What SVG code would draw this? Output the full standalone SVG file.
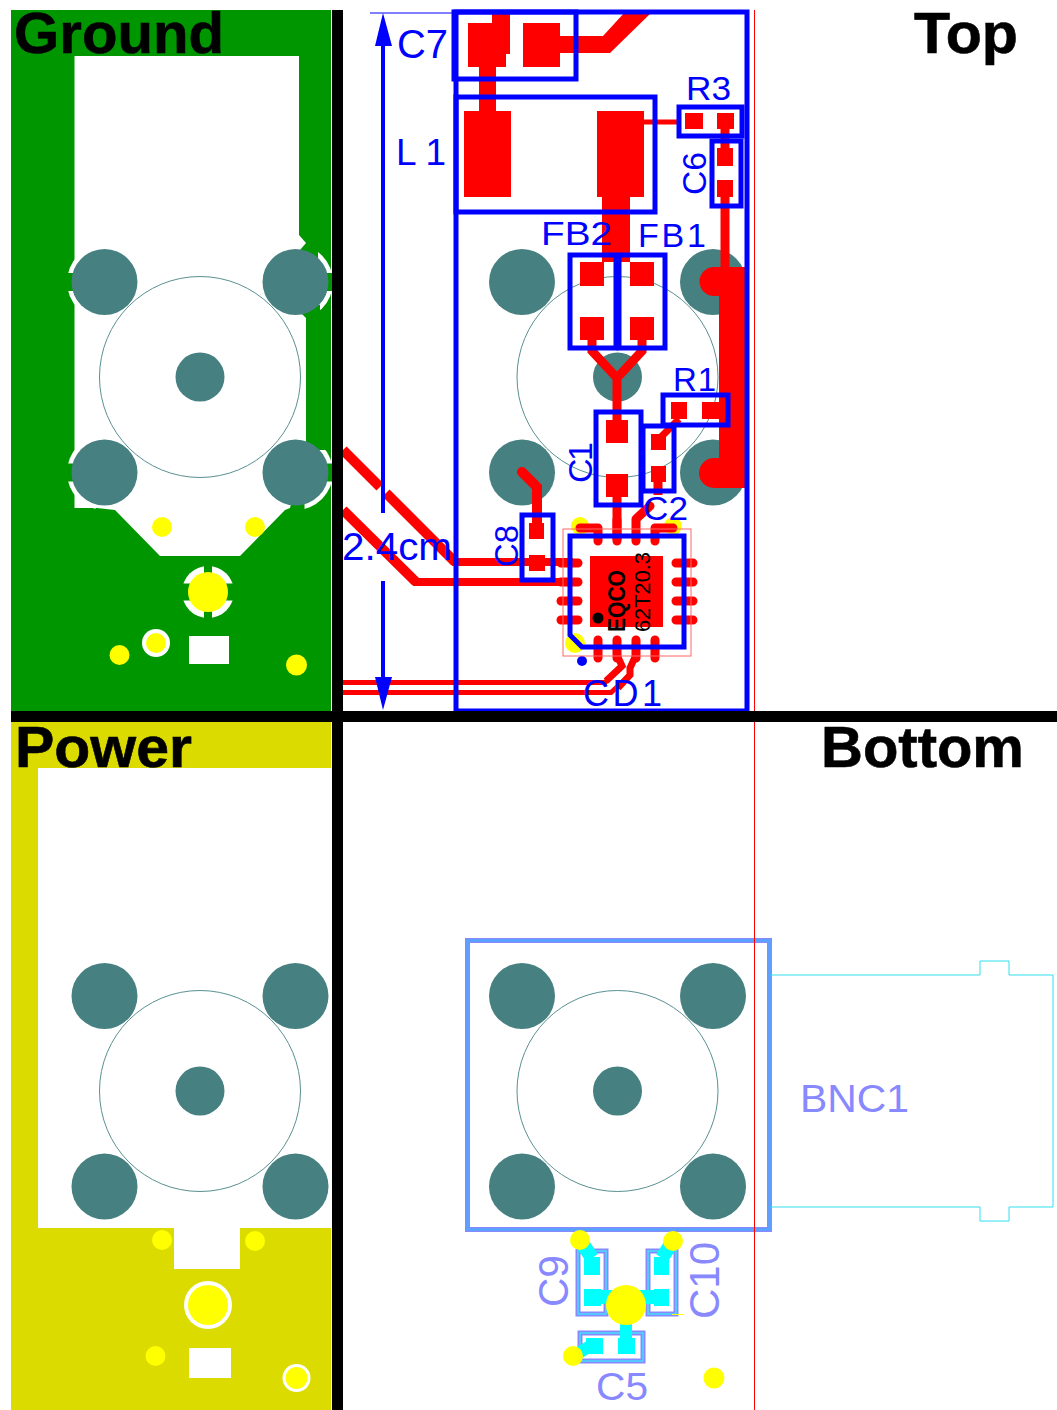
<svg xmlns="http://www.w3.org/2000/svg" width="1057" height="1410" viewBox="0 0 1057 1410">
<style>
.hole{fill:#468080}
.ring{fill:none;stroke:#5a9090;stroke-width:1}
.y{fill:#ffff00}
.w{fill:#fff}
.g{fill:#009600}
.r{fill:#ff0000}
.rt{fill:none;stroke:#ff0000;stroke-width:9;stroke-linejoin:miter}
.t10{stroke-width:10px}
.t8{stroke-width:8px}
.t7{stroke-width:7px}
.t5{stroke-width:5px}
.pin{fill:none;stroke:#ff0000;stroke-width:9;stroke-linecap:round;stroke-linejoin:round}
.b{fill:none;stroke:#0000ff;stroke-width:5}
.bl{font-family:"Liberation Sans",Arial,sans-serif;fill:#0000ff}
.pl{font-family:"Liberation Sans",Arial,sans-serif;fill:#8888ff}
.title{font-family:"Liberation Sans",Arial,sans-serif;font-weight:700;font-size:58px;fill:#000;stroke:#000;stroke-width:.6}
.c{fill:#00ffff}
.ct{fill:none;stroke:#00ffff}
.po{fill:none;stroke:#8888ff;stroke-width:5}
.pi{fill:none;stroke:#44ddff;stroke-width:1.5}
</style>
<defs>
<g id="holes">
<circle class="ring" cx="0" cy="0" r="100.5"/>
<circle class="hole" cx="0" cy="0" r="24.5"/>
<circle class="hole" cx="-95.5" cy="-95" r="33"/>
<circle class="hole" cx="95.5" cy="-95" r="33"/>
<circle class="hole" cx="-95.5" cy="95.5" r="33"/>
<circle class="hole" cx="95.5" cy="95.5" r="33"/>
</g>
<g id="thermal">
<circle class="w" r="37.500"/>
<rect class="g" x="-40" y="-9" width="80" height="18"/>
<rect class="g" x="-9" y="-40" width="18" height="80"/>
</g>
</defs>

<g id="ground">
<rect class="g" x="11" y="10" width="320" height="701"/>
<use href="#thermal" x="104.500" y="282"/>
<use href="#thermal" x="295.500" y="282"/>
<use href="#thermal" x="104.500" y="472.500"/>
<use href="#thermal" x="295.500" y="472.500"/>
<rect class="g" x="300" y="240" width="18" height="22"/>
<rect class="g" x="300" y="305" width="20" height="20"/>
<rect class="g" x="300" y="430" width="26" height="20"/>
<polygon class="w" points="74.500,56 299,56 299,235 306,243 300,250 300,312 306,318 306,445 290,508 285,510 240,556 160,556 115,510 97,508 74.500,508"/>
<use href="#holes" x="200" y="377"/>
<circle class="y" cx="162" cy="527" r="10"/>
<circle class="y" cx="255" cy="527" r="10"/>
<circle class="w" cx="208" cy="592" r="26"/>
<rect class="g" x="180" y="583.500" width="56" height="17"/>
<rect class="g" x="204" y="562" width="8" height="60"/>
<circle class="y" cx="208" cy="592" r="20"/>
<circle class="w" cx="156" cy="643" r="14"/>
<circle class="y" cx="156" cy="643" r="10"/>
<circle class="y" cx="119.500" cy="655" r="10"/>
<rect class="w" x="189" y="636" width="40" height="28"/>
<circle class="y" cx="296.500" cy="665" r="10.500"/>
<text class="title" x="14" y="53" textLength="210" lengthAdjust="spacingAndGlyphs">Ground</text>
</g>

<g id="power">
<rect x="11" y="722" width="320" height="688" fill="#dbdb00"/>
<rect class="w" x="38" y="768" width="293" height="460"/>
<rect class="w" x="174" y="1228" width="66" height="41"/>
<use href="#holes" x="200" y="1091"/>
<circle class="y" cx="162" cy="1240" r="10"/>
<circle class="y" cx="255" cy="1241" r="10"/>
<circle class="w" cx="208" cy="1305" r="24"/>
<circle class="y" cx="208" cy="1305" r="20"/>
<circle class="y" cx="155.500" cy="1356" r="10"/>
<rect class="w" x="189" y="1348" width="42" height="30"/>
<circle class="w" cx="296.500" cy="1378" r="14"/>
<circle class="y" cx="296.500" cy="1378" r="11"/>
<text class="title" x="15" y="767" textLength="177" lengthAdjust="spacingAndGlyphs">Power</text>
</g>

<g id="top-holes"><use href="#holes" x="617.500" y="377"/></g>

<g id="bottom-outlines">
<use href="#holes" x="617.500" y="1091"/>
<rect x="467.500" y="940.500" width="302" height="289" fill="none" stroke="#8888ff" stroke-width="5"/>
<rect x="467.500" y="940.500" width="302" height="289" fill="none" stroke="#55a5ff" stroke-width="2.500"/>
<path id="bnc1" d="M770,975H980V961H1009V975H1053V1207H1009V1221H980V1207H770" fill="none" stroke="#33ddee" stroke-width="1"/>
<rect class="po" x="578" y="1251" width="28" height="63"/>
<rect class="pi" x="578" y="1251" width="28" height="63"/>
<rect class="po" x="648" y="1251" width="28" height="63"/>
<rect class="pi" x="648" y="1251" width="28" height="63"/>
<rect class="po" x="580" y="1333" width="63" height="28"/>
<rect class="pi" x="580" y="1333" width="63" height="28"/>
</g>

<g id="connectors">
<g id="top-traces">
<rect class="r" x="479" y="67" width="17" height="44"/>
<rect class="r" x="492" y="14" width="18" height="40"/>
<path class="r" d="M560,36H603L625,12H652L610,53H560Z"/>
<rect class="r" x="644" y="119.500" width="36" height="5"/>
<rect class="r" x="602" y="197" width="28" height="65"/>
<path class="rt" d="M725,129V150M725,197V270"/>
<path class="r" d="M714,267H745V488H714A15,15 0 0 1 714,458H719V296H714A14.500,14.500 0 0 1 714,267Z"/>
<path class="rt" d="M592,340V351L617,378L642,351V340M617,375V420"/>
<path class="rt" d="M720,410H735"/>
<path class="rt t7" d="M679,419L658,440"/>
<path class="rt" d="M658,482V495M617,497V540"/>
<path class="rt t10" stroke-linecap="round" d="M522,472L537,487V525"/>
<path class="rt t10" d="M343,450L380,487M386,493L455,562"/>
<path class="rt t8" d="M452,562H573"/>
<path class="rt t10" d="M343,510L416,582"/>
<path class="rt t8" d="M413,582H573"/>
<path class="rt t5" d="M343,682.500H605L622,667M343,692.500H611L630,675V667"/>
<path class="rt t7" d="M617,655L622,666L606,681M636,655L630,668V675L618,688"/>
</g>
<g id="bottom-traces">
<path class="ct" stroke-width="14" d="M582,1243L592,1258M671,1244L662,1258"/>
<path class="ct" stroke-width="14" d="M595,1297H660"/>
<path class="ct" stroke-width="12" d="M626,1320V1340M575,1355L592,1345"/>
</g>
</g>

<g id="top">
<rect class="r" x="468" y="23" width="42" height="28"/>
<rect class="r" x="468" y="50" width="38" height="17"/>
<rect class="r" x="523" y="23" width="37" height="44"/>
<rect class="r" x="464" y="111" width="47" height="86"/>
<rect class="r" x="597" y="111" width="47" height="86"/>
<rect class="r" x="685" y="113" width="18" height="16"/>
<rect class="r" x="717" y="113" width="17" height="16"/>
<rect class="r" x="717" y="148" width="16" height="18"/>
<rect class="r" x="717" y="180" width="16" height="17"/>
<rect class="r" x="580" y="262" width="24" height="24"/>
<rect class="r" x="580" y="317" width="24" height="23"/>
<rect class="r" x="630" y="262" width="24" height="24"/>
<rect class="r" x="630" y="317" width="24" height="23"/>
<rect class="r" x="606" y="420" width="22" height="23"/>
<rect class="r" x="606" y="474" width="22" height="23"/>
<rect class="r" x="651" y="434" width="15" height="16"/>
<rect class="r" x="651" y="466" width="15" height="16"/>
<rect class="r" x="671" y="402" width="16" height="17"/>
<rect class="r" x="702" y="402" width="24" height="17"/>
<rect class="r" x="529" y="523" width="15" height="16"/>
<rect class="r" x="529" y="555" width="16" height="16"/>
<line x1="754.500" y1="10" x2="754.500" y2="1410" stroke="#ff0000" stroke-width="1"/>
</g>

<g id="chip">
<circle class="y" cx="580" cy="526" r="9"/>
<circle class="y" cx="673" cy="526" r="9"/>
<circle class="y" cx="575" cy="643" r="10"/>
<circle cx="582" cy="661" r="5" fill="#0000ff"/>
<path class="pin" d="M580,528H598V541M617,520V541M636,541V519L650,506M673,528H655V541"/>
<path class="pin" d="M598,640V658M617,640V658M636,640V658M655,640V658"/>
<path class="pin" d="M561,563H578M561,582H578M561,601H578M561,620H578M676,563H693M676,582H693M676,601H693M676,620H693"/>
<rect class="r" x="590" y="556" width="73" height="71"/>
<rect x="563" y="529" width="128" height="127" fill="none" stroke="#ff6666" stroke-width="1"/>
<circle cx="598" cy="618" r="5.500" fill="#000"/>
<text transform="translate(625,632) rotate(-90)" font-family="'Liberation Sans',Arial,sans-serif" font-weight="700" font-size="23" fill="#000" textLength="62" lengthAdjust="spacingAndGlyphs">EQCO</text>
<text transform="translate(650,632) rotate(-90)" font-family="'Liberation Sans',Arial,sans-serif" font-size="22" fill="#000" textLength="80" lengthAdjust="spacingAndGlyphs">62T20.3</text>
</g>

<g id="top-outlines">
<rect class="b" x="456" y="12" width="291" height="699"/>
<rect class="b" x="454" y="12" width="122" height="67"/>
<rect class="b" x="456" y="97" width="199" height="115"/>
<rect class="b" x="679" y="107" width="63" height="29"/>
<rect class="b" x="712" y="141" width="29" height="65"/>
<rect class="b" x="570" y="255" width="46" height="93"/>
<rect class="b" x="619" y="255" width="46" height="93"/>
<rect class="b" x="596" y="412" width="45" height="93"/>
<rect class="b" x="643" y="426" width="31" height="65"/>
<rect class="b" x="663" y="395" width="65" height="30"/>
<rect class="b" x="522" y="515" width="31" height="65"/>
<path class="b" d="M570,536H684V647H582L570,635Z"/>
<line x1="370" y1="13" x2="456" y2="13" stroke="#0000ff" stroke-width="1"/>
<path d="M383,46V513M383,581V680" fill="none" stroke="#0000ff" stroke-width="4"/>
<path d="M383,13L392,46H375Z M383,710L392,677H375Z" fill="#0000ff"/>
<text class="bl" x="397" y="58" font-size="41" textLength="51" lengthAdjust="spacingAndGlyphs">C7</text>
<text class="bl" x="396" y="165" font-size="37" textLength="50">L1</text>
<text class="bl" x="686" y="100" font-size="33" textLength="45" lengthAdjust="spacingAndGlyphs">R3</text>
<text class="bl" transform="translate(706,195) rotate(-90)" font-size="34" textLength="43" lengthAdjust="spacingAndGlyphs">C6</text>
<text class="bl" x="541" y="245" font-size="34" textLength="71" lengthAdjust="spacingAndGlyphs">FB2</text>
<text class="bl" x="638" y="247" font-size="34" textLength="68">FB1</text>
<text class="bl" transform="translate(592,483) rotate(-90)" font-size="34" textLength="41">C1</text>
<text class="bl" x="673" y="391" font-size="33" textLength="43">R1</text>
<text class="bl" x="643" y="520" font-size="33" textLength="45" lengthAdjust="spacingAndGlyphs">C2</text>
<text class="bl" transform="translate(518,567) rotate(-90)" font-size="34" textLength="42" lengthAdjust="spacingAndGlyphs">C8</text>
<text class="bl" x="342" y="560" font-size="38" textLength="110" lengthAdjust="spacingAndGlyphs">2.4cm</text>
<text class="bl" x="583" y="706" font-size="36" textLength="79">CD1</text>
<text class="title" x="914" y="53" textLength="104" lengthAdjust="spacingAndGlyphs">Top</text>
</g>

<g id="bottom">
<text class="title" x="821" y="767">Bottom</text>
<text class="pl" x="800" y="1112" font-size="38" textLength="109" lengthAdjust="spacingAndGlyphs">BNC1</text>
<rect class="c" x="584" y="1257" width="16" height="18"/>
<rect class="c" x="584" y="1289" width="17" height="17"/>
<rect class="c" x="654" y="1257" width="15" height="18"/>
<rect class="c" x="654" y="1289" width="15" height="17"/>
<rect class="c" x="586" y="1338" width="17" height="16"/>
<rect class="c" x="618" y="1338" width="17" height="16"/>
<circle class="y" cx="580" cy="1240" r="10"/>
<circle class="y" cx="673" cy="1241" r="10"/>
<circle class="y" cx="626" cy="1305" r="20"/>
<circle class="y" cx="573" cy="1356" r="10"/>
<circle class="y" cx="714" cy="1378" r="10.500"/>
<line x1="672" y1="1314.500" x2="684" y2="1314.500" stroke="#ffff00" stroke-width="1"/>
<text class="pl" transform="translate(568,1307) rotate(-90)" font-size="42" textLength="52" lengthAdjust="spacingAndGlyphs">C9</text>
<text class="pl" transform="translate(719,1319) rotate(-90)" font-size="42" textLength="77">C10</text>
<text class="pl" x="596" y="1400" font-size="38" textLength="52" lengthAdjust="spacingAndGlyphs">C5</text>
</g>

<g id="dividers" fill="#000">
<rect x="332" y="10" width="11" height="1400"/>
<rect x="11" y="711" width="1046" height="11"/>
</g>
</svg>
